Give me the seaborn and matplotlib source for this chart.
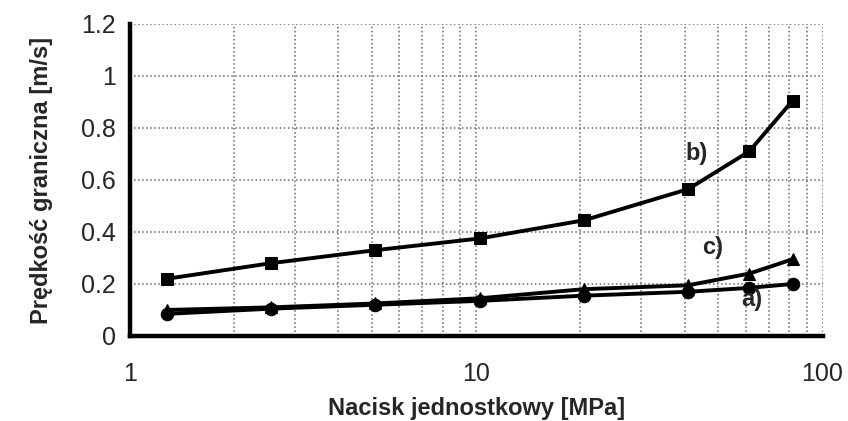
import numpy as np
import pandas as pd
import seaborn as sns
import matplotlib.pyplot as plt
from matplotlib.ticker import LogLocator, FixedLocator, NullFormatter

# Data
nacisk = [1.28, 2.56, 5.12, 10.24, 20.48, 40.96, 61.44, 81.92]
v_a = [0.085, 0.105, 0.12, 0.135, 0.155, 0.17, 0.185, 0.20]
v_b = [0.22, 0.28, 0.33, 0.375, 0.445, 0.565, 0.71, 0.905]
v_c = [0.10, 0.11, 0.125, 0.145, 0.18, 0.195, 0.24, 0.295]

df = pd.DataFrame({
    'nacisk': nacisk * 3,
    'v': v_a + v_b + v_c,
    'seria': ['a'] * 8 + ['b'] * 8 + ['c'] * 8,
})

sns.set_style('white')
plt.rcParams['font.family'] = ['Liberation Sans', 'DejaVu Sans']

fig = plt.figure(figsize=(8.48, 4.21), dpi=100)
ax = fig.add_axes([0.153, 0.202, 0.817, 0.741])

sns.lineplot(data=df, x='nacisk', y='v', style='seria', hue='seria',
             palette=['black', 'black', 'black'],
             markers={'a': 'o', 'b': 's', 'c': '^'}, dashes=False,
             markersize=9, linewidth=2.8, markeredgecolor='black',
             legend=False, ax=ax)

ax.set_xscale('log')
ax.set_xlim(1, 100)
ax.set_ylim(0, 1.2)
ax.yaxis.set_major_locator(FixedLocator([0, 0.2, 0.4, 0.6, 0.8, 1.0, 1.2]))
ax.set_yticklabels(['0', '0.2', '0.4', '0.6', '0.8', '1', '1.2'])
ax.xaxis.set_major_locator(FixedLocator([1, 10, 100]))
ax.set_xticklabels(['1', '10', '100'])
ax.xaxis.set_minor_locator(LogLocator(base=10, subs=np.arange(2, 10)))
ax.xaxis.set_minor_formatter(NullFormatter())

ax.grid(True, which='both', color='#666666', linestyle=':', linewidth=1.1)
for s in ['top', 'right']:
    ax.spines[s].set_visible(False)
for s in ['left', 'bottom']:
    ax.spines[s].set_linewidth(3.2)
    ax.spines[s].set_color('black')

ax.tick_params(axis='both', which='major', direction='out', length=5,
               width=2.5, labelsize=18, pad=5, color='black')
ax.tick_params(axis='x', which='minor', length=0)
ax.tick_params(axis='x', which='major', pad=14)

ax.set_xlabel('Nacisk jednostkowy [MPa]', fontsize=17, fontweight='bold',
              labelpad=8)
ax.set_ylabel('Prędkość graniczna [m/s]', fontsize=17, fontweight='bold',
              labelpad=20)

ax.text(43.3, 0.70, 'b)', fontsize=17, fontweight='bold', ha='center', va='center')
ax.text(48, 0.34, 'c)', fontsize=17, fontweight='bold', ha='center', va='center')
ax.text(62.4, 0.14, 'a)', fontsize=17, fontweight='bold', ha='center', va='center')

fig.savefig('out.png', dpi=100)
